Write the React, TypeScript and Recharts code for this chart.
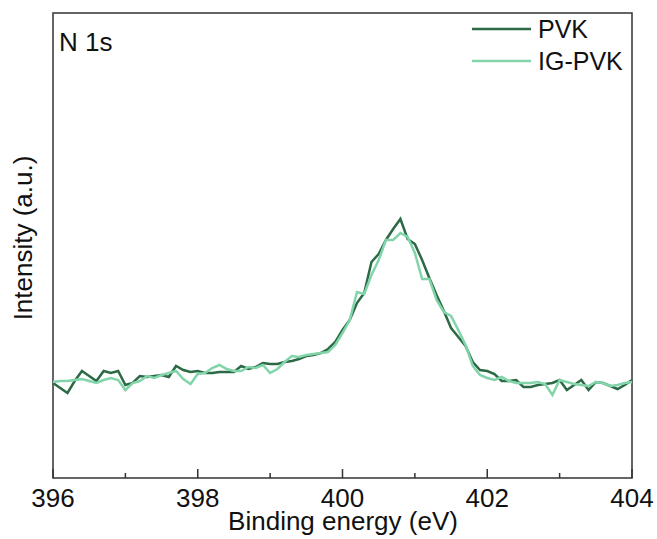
import React from "react";
import { LineChart, Line, XAxis, YAxis, ReferenceArea, ReferenceLine } from "recharts";

const energy = [
  396.0, 396.1, 396.2, 396.3, 396.4, 396.5, 396.6, 396.7, 396.8, 396.9,
  397.0, 397.1, 397.2, 397.3, 397.4, 397.5, 397.6, 397.7, 397.8, 397.9,
  398.0, 398.1, 398.2, 398.3, 398.4, 398.5, 398.6, 398.7, 398.8, 398.9,
  399.0, 399.1, 399.2, 399.3, 399.4, 399.5, 399.6, 399.7, 399.8, 399.9,
  400.0, 400.1, 400.2, 400.3, 400.4, 400.5, 400.6, 400.7, 400.8, 400.9,
  401.0, 401.1, 401.2, 401.3, 401.4, 401.5, 401.6, 401.7, 401.8, 401.9,
  402.0, 402.1, 402.2, 402.3, 402.4, 402.5, 402.6, 402.7, 402.8, 402.9,
  403.0, 403.1, 403.2, 403.3, 403.4, 403.5, 403.6, 403.7, 403.8, 403.9,
  404.0,
];

const pvk = [
  95, 90, 85, 97, 107, 102, 97, 107, 105, 107,
  93, 95, 102, 101, 102, 103, 101, 112, 108, 106,
  107, 105, 105, 106, 106, 106, 112, 109, 111, 115,
  114, 114, 116, 117, 119, 122, 123, 125, 129, 136,
  148, 158, 175, 185, 216, 224, 238, 249, 259, 239,
  234, 218, 200, 183, 167, 150, 141, 132, 116, 108,
  107, 104, 97, 97, 98, 91, 91, 93, 94, 95,
  98, 88, 93, 98, 88, 96, 95, 92, 89, 93,
  98,
];

const igPvk = [
  96, 97, 97, 98, 99, 97, 95, 98, 100, 98,
  88, 95, 97, 102, 100, 103, 105, 107, 99, 94,
  104, 105, 110, 113, 109, 107, 107, 111, 110, 113,
  105, 109, 116, 122, 121, 123, 124, 125, 126, 133,
  145, 158, 186, 184, 203, 218, 238, 238, 245, 241,
  225, 199, 199, 178, 166, 162, 148, 133, 112, 103,
  100, 98, 101, 97, 95, 95, 95, 96, 94, 83,
  98, 96, 94, 93, 92, 96, 95, 92, 93, 95,
  96,
];

const xTicks = [396, 397, 398, 399, 400, 401, 402, 403, 404];
const xTickLabels = ["396", "", "398", "", "400", "", "402", "", "404"];
const tickLengths = [9, 5, 9, 5, 9, 5, 9, 5, 9];

const seriesNames = ["PVK", "IG-PVK"];
const seriesKeys = ["pvk", "igPvk"];
const seriesColors = ["#2b6a45", "#82d4aa"];

const data = energy.map((e, i) => ({ e, pvk: pvk[i], igPvk: igPvk[i] }));

const FONT = '"Liberation Sans", Arial, Helvetica, sans-serif';
const AXIS = "#333333";
const TEXT = "#111111";

const renderTick = (props: any) => {
  const { x, y, payload } = props;
  const idx = xTicks.indexOf(Number(payload.value));
  const label = idx >= 0 ? xTickLabels[idx] : "";
  if (!label) return <g />;
  return (
    <text x={x} y={y + 29} textAnchor="middle" fontSize={26} fontFamily={FONT} fill={TEXT}>
      {label}
    </text>
  );
};

export default function App() {
  return (
    <div style={{ position: "absolute", left: 0, top: 0, background: "#fff" }}>
      <LineChart
        width={657}
        height={539}
        data={data}
        margin={{ top: 13, right: 25, bottom: 31, left: 53 }}
      >
        <XAxis
          dataKey="e"
          type="number"
          domain={[396, 404]}
          ticks={xTicks}
          interval={0}
          tickLine={false}
          axisLine={false}
          tickSize={0}
          tickMargin={0}
          height={30}
          tick={renderTick}
        />
        <YAxis type="number" domain={[0, 465]} hide allowDataOverflow />
        <ReferenceArea
          x1={396}
          x2={404}
          y1={0}
          y2={465}
          fill="none"
          fillOpacity={0}
          stroke={AXIS}
          strokeWidth={1.5}
        />
        {xTicks.map((t, i) => (
          <ReferenceLine
            key={"t" + t}
            segment={[
              { x: t, y: 0 },
              { x: t, y: tickLengths[i] },
            ]}
            stroke={AXIS}
            strokeWidth={1.5}
          />
        ))}
        {seriesKeys.map((k, i) => (
          <Line
            key={k}
            type="linear"
            dataKey={k}
            name={seriesNames[i]}
            stroke={seriesColors[i]}
            strokeWidth={2.5}
            dot={false}
            isAnimationActive={false}
          />
        ))}
        <text x={59} y={51} fontSize={26} fontFamily={FONT} fill={TEXT}>
          N 1s
        </text>
        <text
          x={32}
          y={238}
          transform="rotate(-90 32 238)"
          textAnchor="middle"
          fontSize={26}
          fontFamily={FONT}
          fill={TEXT}
        >
          Intensity (a.u.)
        </text>
        <text x={343} y={530} textAnchor="middle" fontSize={26} fontFamily={FONT} fill={TEXT}>
          Binding energy (eV)
        </text>
        {seriesNames.map((n, i) => (
          <g key={n}>
            <line
              x1={472}
              x2={531}
              y1={29 + i * 32}
              y2={29 + i * 32}
              stroke={seriesColors[i]}
              strokeWidth={2.5}
            />
            <text x={538} y={38 + i * 32} fontSize={25} fontFamily={FONT} fill={TEXT}>
              {n}
            </text>
          </g>
        ))}
      </LineChart>
    </div>
  );
}
